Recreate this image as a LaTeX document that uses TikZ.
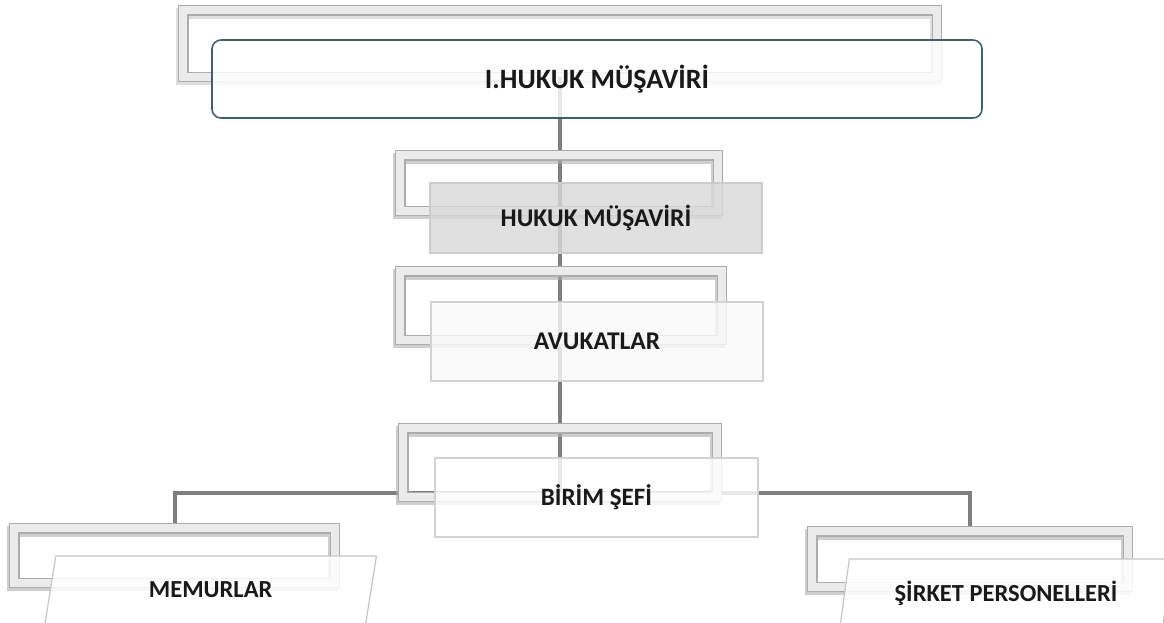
\documentclass[tikz,border=0pt]{standalone}
\usepackage{fontspec}
\setmainfont{Carlito}
\usetikzlibrary{shapes.geometric}
\definecolor{conncol}{RGB}{127,127,127}
\definecolor{tealedge}{RGB}{62,98,108}
\definecolor{txt}{RGB}{25,25,25}
\begin{document}
\begin{tikzpicture}[x=1pt,y=-1pt,
  backframe/.style={rectangle, inner sep=0pt, draw=gray!65, double=gray!16,
    double distance=8pt, line width=1.3pt,
    preaction={draw=gray!55, line width=10.6pt, opacity=0.45,
      transform canvas={shift={(-2pt,-3pt)}}}},
  connline/.style={draw=conncol, line width=4pt},
  lbl/.style={font=\bfseries\fontsize{24.5}{28}\selectfont, text=txt, text opacity=1},
  frontbox/.style={rectangle, inner sep=0pt, draw=gray!35, line width=1.5pt,
    fill=white, fill opacity=0.82, lbl},
  slantbox/.style={trapezium, trapezium left angle=75, trapezium right angle=105,
    trapezium stretches=true, inner sep=0pt, draw=gray!45, line width=1.2pt,
    fill=white, fill opacity=0.85, lbl}]
\useasboundingbox (0,0) rectangle (1164,622);
\clip (0,0) rectangle (1164,622);

% back frames
\node[backframe, minimum width=753.6pt, minimum height=66.6pt] (f1) at (560,43.5) {};
\node[backframe, minimum width=317.6pt, minimum height=55.6pt] (f2) at (559,183) {};
\node[backframe, minimum width=321.6pt, minimum height=68.6pt] (f3) at (561,305.5) {};
\node[backframe, minimum width=313.6pt, minimum height=68.6pt] (f4) at (560,462.5) {};
\node[backframe, minimum width=320.6pt, minimum height=54.6pt] (f5) at (174.5,555.5) {};
\node[backframe, minimum width=315.6pt, minimum height=55.6pt] (f6) at (970,559) {};

% connectors (behind the front boxes)
\coordinate (hub) at (560,493);
\draw[connline] (f1.south) -- (hub);
\draw[connline] (hub) -| (f5.north);
\draw[connline] (hub) -| (f6.north);

% frames redrawn over the connectors
\node[backframe, minimum width=317.6pt, minimum height=55.6pt] (f2b) at (f2) {};
\node[backframe, minimum width=321.6pt, minimum height=68.6pt] (f3b) at (f3) {};
\node[backframe, minimum width=313.6pt, minimum height=68.6pt] (f4b) at (f4) {};
\node[backframe, minimum width=320.6pt, minimum height=54.6pt] (f5b) at (f5) {};
\node[backframe, minimum width=315.6pt, minimum height=55.6pt] (f6b) at (f6) {};

% front boxes
\node[frontbox, draw=tealedge, line width=1.6pt, rounded corners=9pt,
  minimum width=770pt, minimum height=78pt,
  font=\bfseries\fontsize{28}{32}\selectfont] (n1) at (597,79) {I.HUKUK MÜŞAVİRİ};
\node[frontbox, fill=gray!30, draw=gray!40, minimum width=332pt, minimum height=70pt,
  font=\bfseries\fontsize{25.5}{30}\selectfont]
  (n2) at (596,218) {HUKUK MÜŞAVİRİ};
\node[frontbox, fill=gray!5, minimum width=332pt, minimum height=79pt,
  font=\bfseries\fontsize{25.5}{30}\selectfont]
  (n3) at (597,341.5) {AVUKATLAR};
\node[frontbox, minimum width=323pt, minimum height=79pt,
  font=\bfseries\fontsize{25}{30}\selectfont]
  (n4) at (596.5,497.5) {BİRİM ŞEFİ};
\node[slantbox, minimum width=332pt, minimum height=68pt]
  (n5) at (210.7,590) {MEMURLAR};
\node[slantbox, minimum width=333pt, minimum height=68pt]
  (n6) at (1006,593) {ŞİRKET PERSONELLERİ};
\end{tikzpicture}
\end{document}
